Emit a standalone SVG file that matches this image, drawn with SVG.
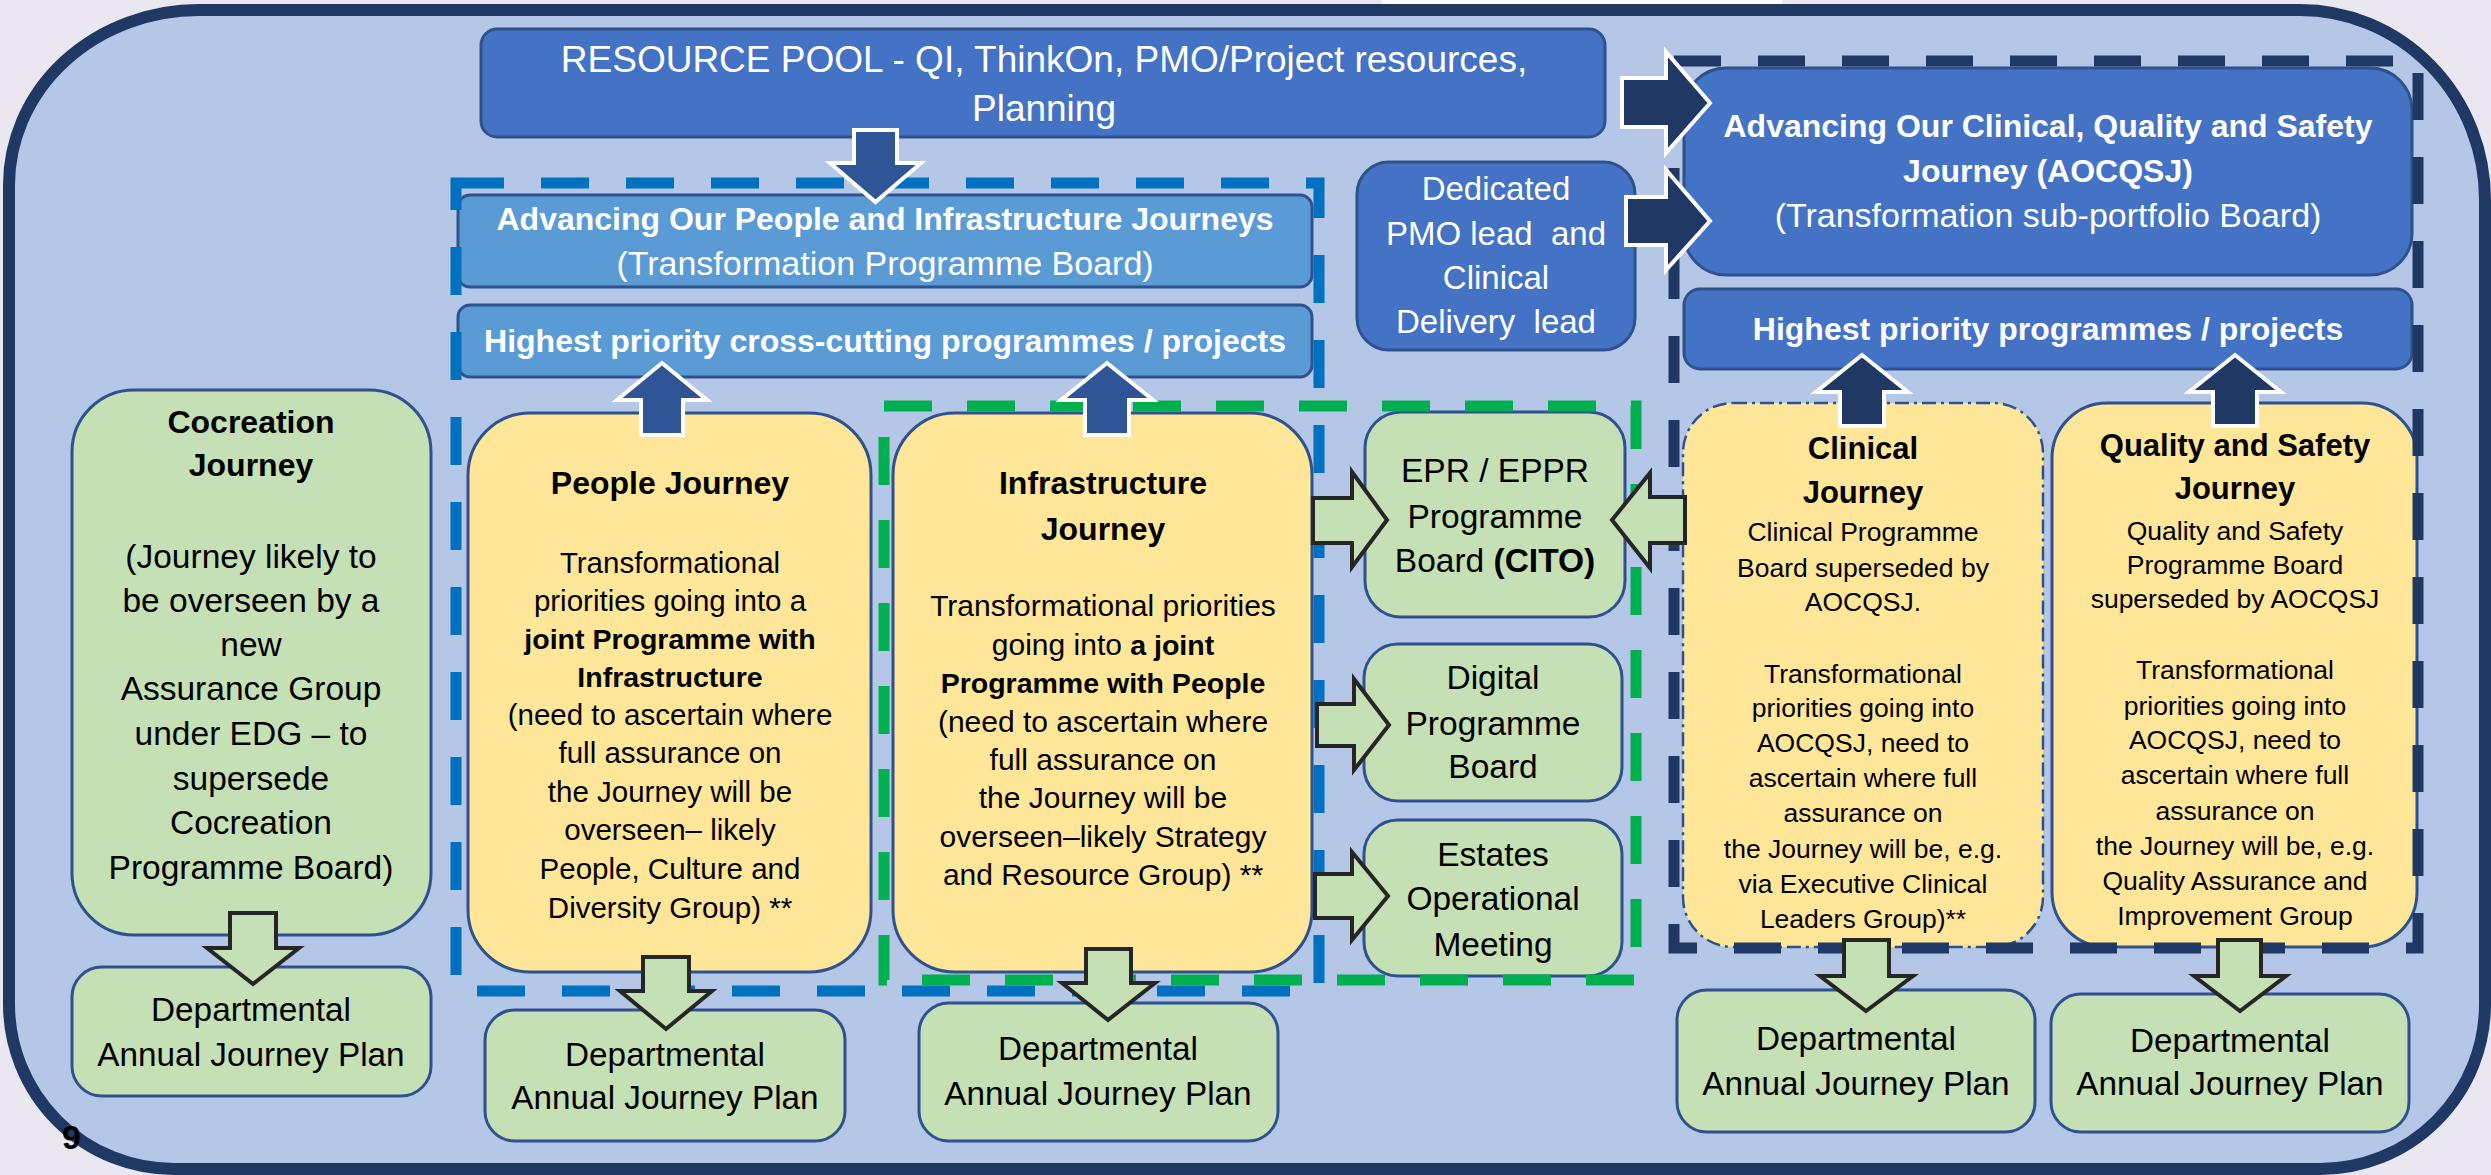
<svg xmlns="http://www.w3.org/2000/svg" width="2491" height="1175" viewBox="0 0 2491 1175">
<style>
.t{font-family:'Liberation Sans',Arial,sans-serif;text-anchor:middle}
.w{fill:#fff}
.k{fill:#000}
.b{font-weight:bold}
.blue{fill:#4472C4;stroke:#2F528F;stroke-width:3}
.lblue{fill:#5B9BD5;stroke:#2F528F;stroke-width:3}
.green{fill:#C5E0B4;stroke:#2F528F;stroke-width:3}
.yellow{fill:#FFE699;stroke:#2F528F;stroke-width:3}
.ga{fill:#C5E0B4;stroke:#262626;stroke-width:4}
.ba{fill:#2F5597;stroke:#fff;stroke-width:4}
.na{fill:#1F3864;stroke:#fff;stroke-width:4}
.dash{fill:none;stroke-width:11}
</style>
<rect width="2491" height="1175" fill="#EAE7F1"/>
<rect x="1382" y="0" width="400" height="9" fill="#FFFFFF"/>
<path id="frame" d="M 199,10 H 2300 A 185 190 0 0 1 2485 200 V 1004 A 165 165 0 0 1 2320 1169 H 174 A 165 165 0 0 1 9 1004 V 185 A 190 175 0 0 1 199 10 Z" fill="#B4C7E7" stroke="#1F3864" stroke-width="12"/>

<g id="resource-pool">
<rect class="blue" x="481" y="29" width="1124" height="108" rx="16"/>
<text class="t w" font-size="37" x="1044" y="72">RESOURCE POOL - QI, ThinkOn, PMO/Project resources,</text>
<text class="t w" font-size="37" x="1044" y="121">Planning</text>
</g>
<g id="people-infra-board">
<rect class="lblue" x="458" y="195" width="854" height="92" rx="12"/>
<text class="t w b" font-size="32" x="885" y="230">Advancing Our People and Infrastructure Journeys</text>
<text class="t w" font-size="34" x="885" y="275">(Transformation Programme Board)</text>
</g>
<g id="cross-cutting">
<rect class="lblue" x="458" y="305" width="854" height="72" rx="12"/>
<text class="t w b" font-size="32" x="885" y="352">Highest priority cross-cutting programmes / projects</text>
</g>
<g id="dedicated-pmo">
<rect class="blue" x="1357" y="162" width="278" height="188" rx="32"/>
<text class="t w" font-size="33" x="1496" y="200">Dedicated</text>
<text class="t w" font-size="33" x="1496" y="245" style="white-space:pre">PMO lead  and</text>
<text class="t w" font-size="33" x="1496" y="289">Clinical</text>
<text class="t w" font-size="33" x="1496" y="333" style="white-space:pre">Delivery  lead</text>
</g>
<g id="aocqsj">
<rect class="blue" x="1684" y="68" width="728" height="207" rx="42"/>
<text class="t w b" font-size="32" x="2048" y="137">Advancing Our Clinical, Quality and Safety</text>
<text class="t w b" font-size="32" x="2048" y="182">Journey (AOCQSJ)</text>
<text class="t w" font-size="34" x="2048" y="227">(Transformation sub-portfolio Board)</text>
</g>
<g id="highest-priority">
<rect class="blue" x="1684" y="289" width="728" height="80" rx="16"/>
<text class="t w b" font-size="32" x="2048" y="340">Highest priority programmes / projects</text>
</g>

<g id="cocreation">
<rect class="green" x="72" y="390" width="359" height="545" rx="62"/>
<text class="t k b" font-size="32" x="251" y="433">Cocreation</text>
<text class="t k b" font-size="32" x="251" y="476">Journey</text>
<text class="t k" font-size="33.5" x="251" y="568">(Journey likely to</text>
<text class="t k" font-size="33.5" x="251" y="612">be overseen by a</text>
<text class="t k" font-size="33.5" x="251" y="656">new</text>
<text class="t k" font-size="33.5" x="251" y="700">Assurance Group</text>
<text class="t k" font-size="33.5" x="251" y="745">under EDG – to</text>
<text class="t k" font-size="33.5" x="251" y="790">supersede</text>
<text class="t k" font-size="33.5" x="251" y="834">Cocreation</text>
<text class="t k" font-size="33.5" x="251" y="879">Programme Board)</text>
</g>
<g id="people-journey">
<rect class="yellow" x="468" y="413" width="403" height="559" rx="62"/>
<text class="t k b" font-size="32" x="670" y="494">People Journey</text>
<text class="t k" font-size="29.5" x="670" y="573">Transformational</text>
<text class="t k" font-size="29.5" x="670" y="611">priorities going into a</text>
<text class="t k b" font-size="28.5" x="670" y="649">joint Programme with</text>
<text class="t k b" font-size="28.5" x="670" y="687">Infrastructure</text>
<text class="t k" font-size="29.5" x="670" y="725">(need to ascertain where</text>
<text class="t k" font-size="29.5" x="670" y="763">full assurance on</text>
<text class="t k" font-size="29.5" x="670" y="802">the Journey will be</text>
<text class="t k" font-size="29.5" x="670" y="840">overseen– likely</text>
<text class="t k" font-size="29.5" x="670" y="879">People, Culture and</text>
<text class="t k" font-size="29.5" x="670" y="918">Diversity Group) **</text>
</g>
<g id="infrastructure-journey">
<rect class="yellow" x="893" y="413" width="419" height="559" rx="62"/>
<text class="t k b" font-size="32" x="1103" y="494">Infrastructure</text>
<text class="t k b" font-size="32" x="1103" y="540">Journey</text>
<text class="t k" font-size="30" x="1103" y="616">Transformational priorities</text>
<text class="t k" font-size="30" x="1103" y="655">going into <tspan class="b" font-size="28.5">a joint</tspan></text>
<text class="t k b" font-size="28.5" x="1103" y="693">Programme with People</text>
<text class="t k" font-size="30" x="1103" y="732">(need to ascertain where</text>
<text class="t k" font-size="30" x="1103" y="770">full assurance on</text>
<text class="t k" font-size="30" x="1103" y="808">the Journey will be</text>
<text class="t k" font-size="30" x="1103" y="847">overseen–likely Strategy</text>
<text class="t k" font-size="30" x="1103" y="885">and Resource Group) **</text>
</g>
<g id="epr-board">
<rect class="green" x="1365" y="412" width="260" height="205" rx="36"/>
<text class="t k" font-size="33.5" x="1495" y="482">EPR / EPPR</text>
<text class="t k" font-size="33.5" x="1495" y="528">Programme</text>
<text class="t k" font-size="33.5" x="1495" y="572">Board <tspan class="b">(CITO)</tspan></text>
</g>
<g id="digital-board">
<rect class="green" x="1364" y="644" width="258" height="157" rx="34"/>
<text class="t k" font-size="33.5" x="1493" y="689">Digital</text>
<text class="t k" font-size="33.5" x="1493" y="735">Programme</text>
<text class="t k" font-size="33.5" x="1493" y="778">Board</text>
</g>
<g id="estates-meeting">
<rect class="green" x="1364" y="820" width="258" height="156" rx="34"/>
<text class="t k" font-size="33.5" x="1493" y="866">Estates</text>
<text class="t k" font-size="33.5" x="1493" y="910">Operational</text>
<text class="t k" font-size="33.5" x="1493" y="956">Meeting</text>
</g>
<g id="clinical-journey">
<rect x="1683" y="403" width="360" height="544" rx="50" fill="#FFE699" stroke="#2F528F" stroke-width="2.5" stroke-dasharray="14 5 3 5"/>
<text class="t k b" font-size="31" x="1863" y="459">Clinical</text>
<text class="t k b" font-size="31" x="1863" y="503">Journey</text>
<text class="t k" font-size="26.5" x="1863" y="541">Clinical Programme</text>
<text class="t k" font-size="26.5" x="1863" y="577">Board superseded by</text>
<text class="t k" font-size="26.5" x="1863" y="611">AOCQSJ.</text>
<text class="t k" font-size="26.5" x="1863" y="683">Transformational</text>
<text class="t k" font-size="26.5" x="1863" y="717">priorities going into</text>
<text class="t k" font-size="26.5" x="1863" y="752">AOCQSJ, need to</text>
<text class="t k" font-size="26.5" x="1863" y="787">ascertain where full</text>
<text class="t k" font-size="26.5" x="1863" y="822">assurance on</text>
<text class="t k" font-size="26.5" x="1863" y="858">the Journey will be, e.g.</text>
<text class="t k" font-size="26.5" x="1863" y="893">via Executive Clinical</text>
<text class="t k" font-size="26.5" x="1863" y="928">Leaders Group)**</text>
</g>
<g id="quality-journey">
<rect class="yellow" x="2052" y="403" width="365" height="544" rx="55"/>
<text class="t k b" font-size="31" x="2235" y="456">Quality and Safety</text>
<text class="t k b" font-size="31" x="2235" y="499">Journey</text>
<text class="t k" font-size="26.5" x="2235" y="540">Quality and Safety</text>
<text class="t k" font-size="26.5" x="2235" y="574">Programme Board</text>
<text class="t k" font-size="26.5" x="2235" y="608">superseded by AOCQSJ</text>
<text class="t k" font-size="26.5" x="2235" y="679">Transformational</text>
<text class="t k" font-size="26.5" x="2235" y="715">priorities going into</text>
<text class="t k" font-size="26.5" x="2235" y="749">AOCQSJ, need to</text>
<text class="t k" font-size="26.5" x="2235" y="784">ascertain where full</text>
<text class="t k" font-size="26.5" x="2235" y="820">assurance on</text>
<text class="t k" font-size="26.5" x="2235" y="855">the Journey will be, e.g.</text>
<text class="t k" font-size="26.5" x="2235" y="890">Quality Assurance and</text>
<text class="t k" font-size="26.5" x="2235" y="925">Improvement Group</text>
</g>

<g id="plan-cocreation">
<rect class="green" x="72" y="967" width="359" height="129" rx="30"/>
<text class="t k" font-size="33.3" x="251" y="1021">Departmental</text>
<text class="t k" font-size="33.3" x="251" y="1066">Annual Journey Plan</text>
</g>
<g id="plan-people">
<rect class="green" x="485" y="1010" width="360" height="131" rx="30"/>
<text class="t k" font-size="33.3" x="665" y="1066">Departmental</text>
<text class="t k" font-size="33.3" x="665" y="1109">Annual Journey Plan</text>
</g>
<g id="plan-infrastructure">
<rect class="green" x="919" y="1003" width="359" height="138" rx="30"/>
<text class="t k" font-size="33.3" x="1098" y="1060">Departmental</text>
<text class="t k" font-size="33.3" x="1098" y="1105">Annual Journey Plan</text>
</g>
<g id="plan-clinical">
<rect class="green" x="1677" y="990" width="358" height="142" rx="30"/>
<text class="t k" font-size="33.3" x="1856" y="1050">Departmental</text>
<text class="t k" font-size="33.3" x="1856" y="1095">Annual Journey Plan</text>
</g>
<g id="plan-quality">
<rect class="green" x="2051" y="994" width="358" height="138" rx="30"/>
<text class="t k" font-size="33.3" x="2230" y="1052">Departmental</text>
<text class="t k" font-size="33.3" x="2230" y="1095">Annual Journey Plan</text>
</g>

<g id="groupings">
<rect class="dash" x="456" y="183" width="863" height="808" stroke="#0070C0" stroke-dasharray="48 37"/>
<rect class="dash" x="884" y="406" width="752" height="574" stroke="#00B050" stroke-dasharray="48 35"/>
<rect class="dash" x="1674" y="61" width="744" height="887" stroke="#1F3864" stroke-dasharray="47 37"/>
</g>

<g id="connectors">
<polygon class="ba" points="854,130 897,130 897,163 921,163 875.5,202 830,163 854,163"/>
<polygon class="ba" points="641,435 641,400 617,400 662,363 707,400 683,400 683,435"/>
<polygon class="ba" points="1085,435 1085,400 1061,400 1107,363 1153,400 1129,400 1129,435"/>
<polygon class="na" points="1840,426 1840,392 1816,392 1862,355 1908,392 1884,392 1884,426"/>
<polygon class="na" points="2213,426 2213,392 2189,392 2235,355 2281,392 2257,392 2257,426"/>
<polygon class="na" points="1622,78 1666,78 1666,52 1710,103 1666,153 1666,127 1622,127"/>
<polygon class="na" points="1626,197 1666,197 1666,170 1710,221 1666,270 1666,245 1626,245"/>
<polygon class="ga" points="1313,498 1352,498 1352,472 1387,520 1352,567 1352,543 1313,543"/>
<polygon class="ga" points="1317,704 1354,704 1354,679 1389,725 1354,770 1354,746 1317,746"/>
<polygon class="ga" points="1315,874 1352,874 1352,852 1388,896 1352,940 1352,918 1315,918"/>
<polygon class="ga" points="1685,497 1650,497 1650,473 1612,520 1650,568 1650,543 1685,543"/>
<polygon class="ga" points="230,913 276,913 276,948 299,948 253,984 207,948 230,948"/>
<polygon class="ga" points="643,957 689,957 689,991 712,991 666,1029 620,991 643,991"/>
<polygon class="ga" points="1086,949 1131,949 1131,983 1155,983 1108,1020 1062,983 1086,983"/>
<polygon class="ga" points="1844,940 1889,940 1889,976 1913,976 1866,1011 1820,976 1844,976"/>
<polygon class="ga" points="2218,940 2261,940 2261,976 2286,976 2240,1011 2194,976 2218,976"/>
</g>
<text class="b" font-family="'Liberation Sans',Arial,sans-serif" font-size="34" x="62" y="1149" fill="#000">9</text>
</svg>
